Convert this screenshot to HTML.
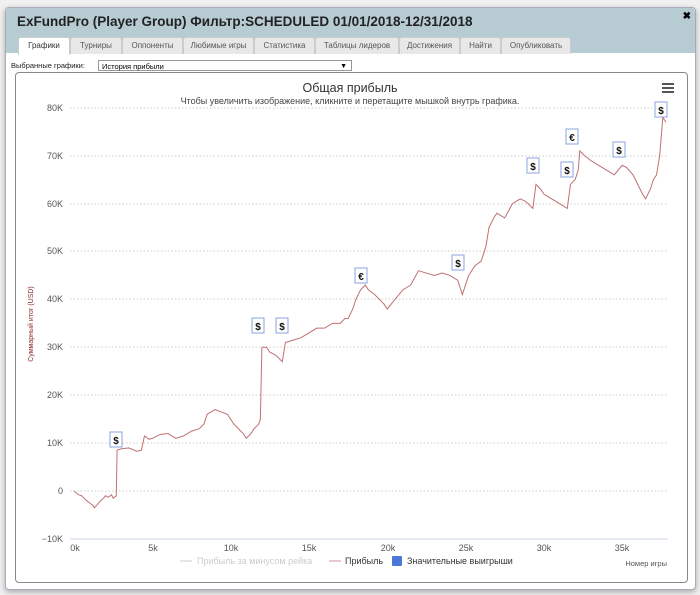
<!DOCTYPE html>
<html><head><meta charset="utf-8"><style>
body{margin:0;width:700px;height:595px;background:#f0f0f0;font-family:"Liberation Sans",sans-serif;position:relative;overflow:hidden}
.dlg{position:absolute;left:5px;top:7px;width:689px;height:581px;background:#fff;border:1px solid #aab;border-radius:4px;box-shadow:0 2px 6px rgba(0,0,0,.3)}
.hdr{position:absolute;left:0;top:0;width:689px;height:45px;background:#b7cbd3;border-radius:4px 4px 0 0}
.ttl{position:absolute;left:11px;top:6px;font-size:13.5px;font-weight:bold;color:#222}
.x{position:absolute;right:4px;top:3px;font-size:10px;font-weight:bold}
.tab{position:absolute;top:29px;height:16px;font-size:8px;color:#555;background:#e8e8e8;border:1px solid #ccc;border-bottom:none;text-align:center;line-height:16px;border-radius:3px 3px 0 0}
.sel{position:absolute;left:11px;top:61px;font-size:7.5px;color:#222}
.box{position:absolute;left:98px;top:60px;width:254px;height:11px;border:1px solid #999;font-size:7.5px;line-height:11px;padding-left:3px;box-sizing:border-box}
.chart{position:absolute;left:15px;top:72px;width:673px;height:511px;border:1px solid #888;border-radius:4px;box-sizing:border-box}
</style></head><body>
<div class="dlg">
<div class="hdr"><div class="ttl">ExFundPro (Player Group) Фильтр:SCHEDULED 01/01/2018-12/31/2018</div><div class="x">✖</div></div>
<div class="tab" style="left:12px;width:50px;background:#fff;color:#333;height:17px">Графики</div>
<div class="tab" style="left:64px;width:50px">Турниры</div>
<div class="tab" style="left:116px;width:59px">Оппоненты</div>
<div class="tab" style="left:177px;width:69px">Любимые игры</div>
<div class="tab" style="left:248px;width:59px">Статистика</div>
<div class="tab" style="left:309px;width:82px">Таблицы лидеров</div>
<div class="tab" style="left:393px;width:59px">Достижения</div>
<div class="tab" style="left:454px;width:39px">Найти</div>
<div class="tab" style="left:495px;width:68px">Опубликовать</div>
</div>
<div class="sel">Выбранные графики:</div>
<div class="box">История прибыли<span style="position:absolute;right:4px;font-size:7px">▼</span></div>
<div class="chart"></div>
<svg style="position:absolute;left:0;top:0" width="700" height="595" font-family="Liberation Sans, sans-serif">
<text x="350" y="92" font-size="12.5" text-anchor="middle" fill="#333">Общая прибыль</text>
<text x="350" y="104" font-size="9" text-anchor="middle" fill="#444">Чтобы увеличить изображение, кликните и перетащите мышкой внутрь графика.</text>
<g fill="#555"><rect x="662" y="83" width="12" height="2"/><rect x="662" y="87" width="12" height="2"/><rect x="662" y="91" width="12" height="2"/></g>
<g stroke="#ccc" stroke-dasharray="1.5,2" stroke-width="1">
<line x1="70" x2="668" y1="108" y2="108"/><line x1="70" x2="668" y1="156" y2="156"/><line x1="70" x2="668" y1="204" y2="204"/><line x1="70" x2="668" y1="251" y2="251"/><line x1="70" x2="668" y1="299" y2="299"/><line x1="70" x2="668" y1="347" y2="347"/><line x1="70" x2="668" y1="395" y2="395"/><line x1="70" x2="668" y1="443" y2="443"/><line x1="70" x2="668" y1="491" y2="491"/></g>
<line x1="70" x2="668" y1="539" y2="539" stroke="#ccd6eb"/>
<g font-size="9" fill="#555" text-anchor="end">
<text x="63" y="111">80K</text><text x="63" y="159">70K</text><text x="63" y="207">60K</text><text x="63" y="254">50K</text><text x="63" y="302">40K</text><text x="63" y="350">30K</text><text x="63" y="398">20K</text><text x="63" y="446">10K</text><text x="63" y="494">0</text><text x="63" y="542">−10K</text></g>
<g font-size="9" fill="#555" text-anchor="middle">
<text x="75" y="551">0k</text><text x="153" y="551">5k</text><text x="231" y="551">10k</text><text x="309" y="551">15k</text><text x="388" y="551">20k</text><text x="466" y="551">25k</text><text x="544" y="551">30k</text><text x="622" y="551">35k</text></g>
<text transform="translate(33,324) rotate(-90)" font-size="7" fill="#8b2a2a" text-anchor="middle">Суммарный итог (USD)</text>
<text x="667" y="566" font-size="7.5" fill="#555" text-anchor="end">Номер игры</text>
<line x1="180" x2="192" y1="561" y2="561" stroke="#ccc"/><text x="197" y="564" font-size="9" fill="#ccc">Прибыль за минусом рейка</text>
<line x1="329" x2="341" y1="561" y2="561" stroke="#d09090"/><text x="345" y="564" font-size="9" fill="#333">Прибыль</text>
<rect x="392" y="556" width="10" height="10" fill="#4a78d8" rx="1"/><text x="407" y="564" font-size="9" fill="#333">Значительные выигрыши</text>
<g transform="translate(74,491) scale(15.66,-4.79)">
<polyline fill="none" stroke="#c07070" stroke-width="1" vector-effect="non-scaling-stroke" points="0,0 0.3,-0.8 0.5,-1 0.8,-2 1,-2.5 1.2,-3 1.3,-3.5 1.5,-2.8 1.7,-2 1.9,-1.5 2,-1 2.2,-1.3 2.4,-0.8 2.5,-1.5 2.7,-1 2.75,8.5 3,8.8 3.5,9 4,8.3 4.3,8.5 4.5,11.5 4.8,10.8 5,11 5.5,11.8 6,12 6.5,11 7,11.5 7.5,12.5 8,13 8.3,14 8.5,16 9,17 9.4,16.5 9.8,16 10.2,14 10.5,13 10.8,12 11,11 11.3,12 11.5,13 11.8,14 11.9,15 12,30 12.3,30 12.5,29 12.8,28.5 13,28 13.3,27 13.5,31 14,31.5 14.5,32 15,33 15.5,34 16,34 16.5,35 17,35 17.3,36 17.5,36 17.8,38 18,40 18.3,42 18.6,43 18.8,42 19.2,41 19.5,40 19.8,39 20,38 20.5,40 21,42 21.5,43 22,46 22.5,45.5 23,45 23.5,45.5 24,45 24.5,44 24.8,41 25,43 25.2,45 25.6,47 26,48 26.3,51 26.5,55 26.8,57 27,58 27.5,57 28,60 28.5,61 28.8,60.5 29,60 29.3,59 29.5,64 29.8,63 30,62 30.5,61 31,60 31.5,59 31.7,64 32,65 32.2,67 32.3,71 32.6,70 33,69 33.5,68 34,67 34.5,66 35,68 35.3,67.5 35.7,66 36,64 36.3,62 36.5,61 36.8,63 37,65 37.2,66 37.4,70 37.6,78 37.8,77"/>
</g>
<g font-size="10" font-weight="bold" text-anchor="middle" fill="#111">
<g stroke="#8aa4e0" fill="#fff"><rect x="110" y="432" width="12" height="15"/><rect x="252" y="318" width="12" height="15"/><rect x="276" y="318" width="12" height="15"/><rect x="355" y="268" width="12" height="15"/><rect x="452" y="255" width="12" height="15"/><rect x="527" y="158" width="12" height="15"/><rect x="561" y="162" width="12" height="15"/><rect x="566" y="129" width="12" height="15"/><rect x="613" y="142" width="12" height="15"/><rect x="655" y="102" width="12" height="15"/></g>
<text x="116" y="444">$</text><text x="258" y="330">$</text><text x="282" y="330">$</text><text x="361" y="280">€</text><text x="458" y="267">$</text><text x="533" y="170">$</text><text x="567" y="174">$</text><text x="572" y="141">€</text><text x="619" y="154">$</text><text x="661" y="114">$</text></g>
</svg>
</body></html>
